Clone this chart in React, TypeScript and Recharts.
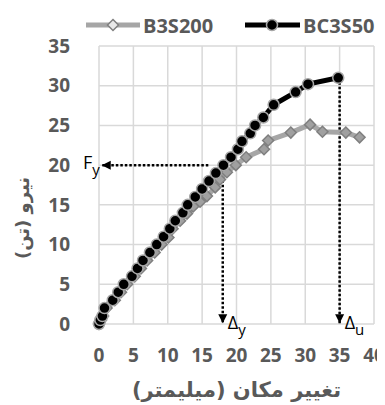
import React from 'react';
import { LineChart, Line, XAxis, YAxis, CartesianGrid } from 'recharts';

const seriesNames = ['B3S200', 'BC3S50'];

const b3s200Disp = [0, 0.3, 0.6, 1.1, 2.3, 3.2, 4.1, 5.2, 6.1, 7.0, 8.1, 9.1, 10.1, 10.7, 11.8, 12.8, 13.7, 14.7, 15.7, 16.9, 17.6, 18.6, 19.9, 21.4, 24.0, 24.6, 27.9, 30.7, 32.5, 35.9, 37.9];
const b3s200Load = [0, 0.5, 1, 2, 3, 4, 5, 6, 7, 8, 9, 10, 10.9, 12, 13, 13.9, 14.8, 15.4, 16.1, 17.2, 18.2, 19.1, 20.0, 21.0, 22.0, 23.1, 24.1, 25.1, 24.2, 24.1, 23.5];

const bc3s50Disp = [0, 0.2, 0.5, 0.8, 2.0, 2.8, 3.6, 4.8, 5.6, 6.4, 7.4, 8.4, 9.4, 10.3, 11.1, 12.2, 12.9, 14.0, 15.0, 16.0, 17.0, 18.1, 19.2, 20.2, 20.8, 22.0, 22.7, 23.9, 25.4, 28.6, 30.4, 34.8];
const bc3s50Load = [0, 0.5, 1, 2, 3, 4, 5, 6, 7, 8, 9, 10, 11, 12, 13, 14, 15, 16, 17, 18, 19, 20, 21, 22, 23, 24, 25, 26, 27.6, 29.2, 30.2, 31.0];

const fyArrowX = [15.9, 0.4];
const fyArrowY = [20, 20];
const dyArrowX = [18, 18];
const dyArrowY = [18.1, 0.1];
const duArrowX = [35, 35];
const duArrowY = [31, 0.1];

const xTicks = [0, 5, 10, 15, 20, 25, 30, 35, 40];
const yTicks = [0, 5, 10, 15, 20, 25, 30, 35];

const xTitle = 'تغییر مکان (میلیمتر)';
const yTitle = 'نیرو (تن)';

const zip = (xs: number[], ys: number[]) => xs.map((x, i) => ({ x, y: ys[i] }));

const b3s200Data = zip(b3s200Disp, b3s200Load);
const bc3s50Data = zip(bc3s50Disp, bc3s50Load);
const fyData = zip(fyArrowX, fyArrowY);
const dyData = zip(dyArrowX, dyArrowY);
const duData = zip(duArrowX, duArrowY);

const GRAY = '#a6a6a6';
const DARKGRAY = '#7f7f7f';
const TEXT = '#595959';
const NUMFONT = '"Open Sans", "Liberation Sans", sans-serif';
const FAFONT = '"DejaVu Sans", sans-serif';

const Diamond = (props: any) => {
  const { cx, cy, index } = props;
  if (cx == null || cy == null) return <g key={`d${index}`} />;
  const s = 5.5;
  return (
    <path
      key={`d${index}`}
      d={`M${cx},${cy - s} L${cx + s},${cy} L${cx},${cy + s} L${cx - s},${cy} Z`}
      fill="#a0a0a0"
      stroke={DARKGRAY}
      strokeWidth={1.5}
    />
  );
};

const Circle = (props: any) => {
  const { cx, cy, index } = props;
  if (cx == null || cy == null) return <g key={`c${index}`} />;
  return <circle key={`c${index}`} cx={cx} cy={cy} r={5.5} fill="#000" stroke={GRAY} strokeWidth={1.5} />;
};

const arrowDot = (dir: 'left' | 'down', main: string, sub: string) => (props: any) => {
  const { cx, cy, index } = props;
  if (index !== 1 || cx == null) return <g key={`a${index}`} />;
  const L = 9;
  const W = 4.5;
  const tri =
    dir === 'left'
      ? `M${cx},${cy} L${cx + L},${cy - W} L${cx + L},${cy + W} Z`
      : `M${cx},${cy} L${cx - W},${cy - L} L${cx + W},${cy - L} Z`;
  const label =
    dir === 'left' ? (
      <text x={cx - 2} y={cy + 4} textAnchor="end" fontFamily={NUMFONT} fontSize={18} fill="#000">
        {main}
        <tspan dy={6} fontSize={15}>{sub}</tspan>
      </text>
    ) : (
      <text x={cx + 5} y={cy + 6} textAnchor="start" fontFamily={NUMFONT} fontSize={18} fill="#000">
        {main}
        <tspan dy={6} fontSize={15}>{sub}</tspan>
      </text>
    );
  return (
    <g key={`a${index}`}>
      <path d={tri} fill="#000" stroke="none" />
      {label}
    </g>
  );
};

const LegendBox = () => (
  <svg width={377} height={26} style={{ position: 'absolute', left: 0, top: 4, display: 'block' }}>
    <line x1={78} y1={13} x2={132} y2={13} stroke={GRAY} strokeWidth={5} />
    <path d="M105,7.5 L110.5,13 L105,18.5 L99.5,13 Z" fill="#e8e8e8" stroke={DARKGRAY} strokeWidth={1.5} />
    <text x={135} y={13} dominantBaseline="central" fontFamily={NUMFONT} fontWeight="bold" fontSize={20} fill={TEXT}>
      {seriesNames[0]}
    </text>
    <line x1={237} y1={13} x2={292} y2={13} stroke="#000" strokeWidth={5} />
    <circle cx={264} cy={13} r={5.5} fill="#000" stroke={GRAY} strokeWidth={1.5} />
    <text x={295} y={13} dominantBaseline="central" fontFamily={NUMFONT} fontWeight="bold" fontSize={20} fill={TEXT}>
      {seriesNames[1]}
    </text>
  </svg>
);

const XTitle = (props: any) => {
  const vb = props.viewBox || {};
  return (
    <text
      x={vb.x + vb.width / 2}
      y={vb.y + 66}
      textAnchor="middle"
      dominantBaseline="central"
      fontFamily={FAFONT}
      fontWeight="bold"
      fontSize={21}
      fill={TEXT}
    >
      {xTitle}
    </text>
  );
};

const YTitle = (props: any) => {
  const vb = props.viewBox || {};
  const cx = 14;
  const cy = vb.y + vb.height / 2 + 33;
  return (
    <text
      x={cx}
      y={cy}
      transform={`rotate(-90, ${cx}, ${cy})`}
      textAnchor="middle"
      dominantBaseline="central"
      fontFamily={FAFONT}
      fontWeight="bold"
      fontSize={18}
      fill={TEXT}
    >
      {yTitle}
    </text>
  );
};

export default function App() {
  return (
    <div style={{ width: 377, height: 397, position: 'relative' }}>
      <LineChart width={377} height={397} margin={{ top: 38, right: 11, left: 0, bottom: 0 }}>
        <CartesianGrid stroke="#d9d9d9" strokeWidth={1.5} />
        <XAxis
          type="number"
          dataKey="x"
          domain={[0, 40]}
          ticks={xTicks}
          interval={0}
          axisLine={false}
          tickLine={false}
          tickMargin={19}
          height={81}
          tick={{ fill: TEXT, fontFamily: NUMFONT, fontWeight: 'bold', fontSize: 19 }}
          label={<XTitle />}
        />
        <YAxis
          type="number"
          dataKey="y"
          domain={[0, 35]}
          ticks={yTicks}
          interval={0}
          axisLine={false}
          tickLine={false}
          tickMargin={23}
          width={91}
          tick={{ fill: TEXT, fontFamily: NUMFONT, fontWeight: 'bold', fontSize: 19 }}
          label={<YTitle />}
        />
        <Line
          data={fyData}
          dataKey="y"
          stroke="#000"
          strokeWidth={2.5}
          strokeDasharray="2.5 2"
          dot={arrowDot('left', 'F', 'y')}
          activeDot={false}
          legendType="none"
          isAnimationActive={false}
        />
        <Line
          data={dyData}
          dataKey="y"
          stroke="#000"
          strokeWidth={2.5}
          strokeDasharray="2.5 2"
          dot={arrowDot('down', 'Δ', 'y')}
          activeDot={false}
          legendType="none"
          isAnimationActive={false}
        />
        <Line
          data={duData}
          dataKey="y"
          stroke="#000"
          strokeWidth={2.5}
          strokeDasharray="2.5 2"
          dot={arrowDot('down', 'Δ', 'u')}
          activeDot={false}
          legendType="none"
          isAnimationActive={false}
        />
        <Line
          name={seriesNames[0]}
          data={b3s200Data}
          dataKey="y"
          stroke={GRAY}
          strokeWidth={5}
          dot={Diamond}
          activeDot={false}
          isAnimationActive={false}
        />
        <Line
          name={seriesNames[1]}
          data={bc3s50Data}
          dataKey="y"
          stroke="#000"
          strokeWidth={5}
          dot={Circle}
          activeDot={false}
          isAnimationActive={false}
        />
      </LineChart>
      <LegendBox />
    </div>
  );
}
